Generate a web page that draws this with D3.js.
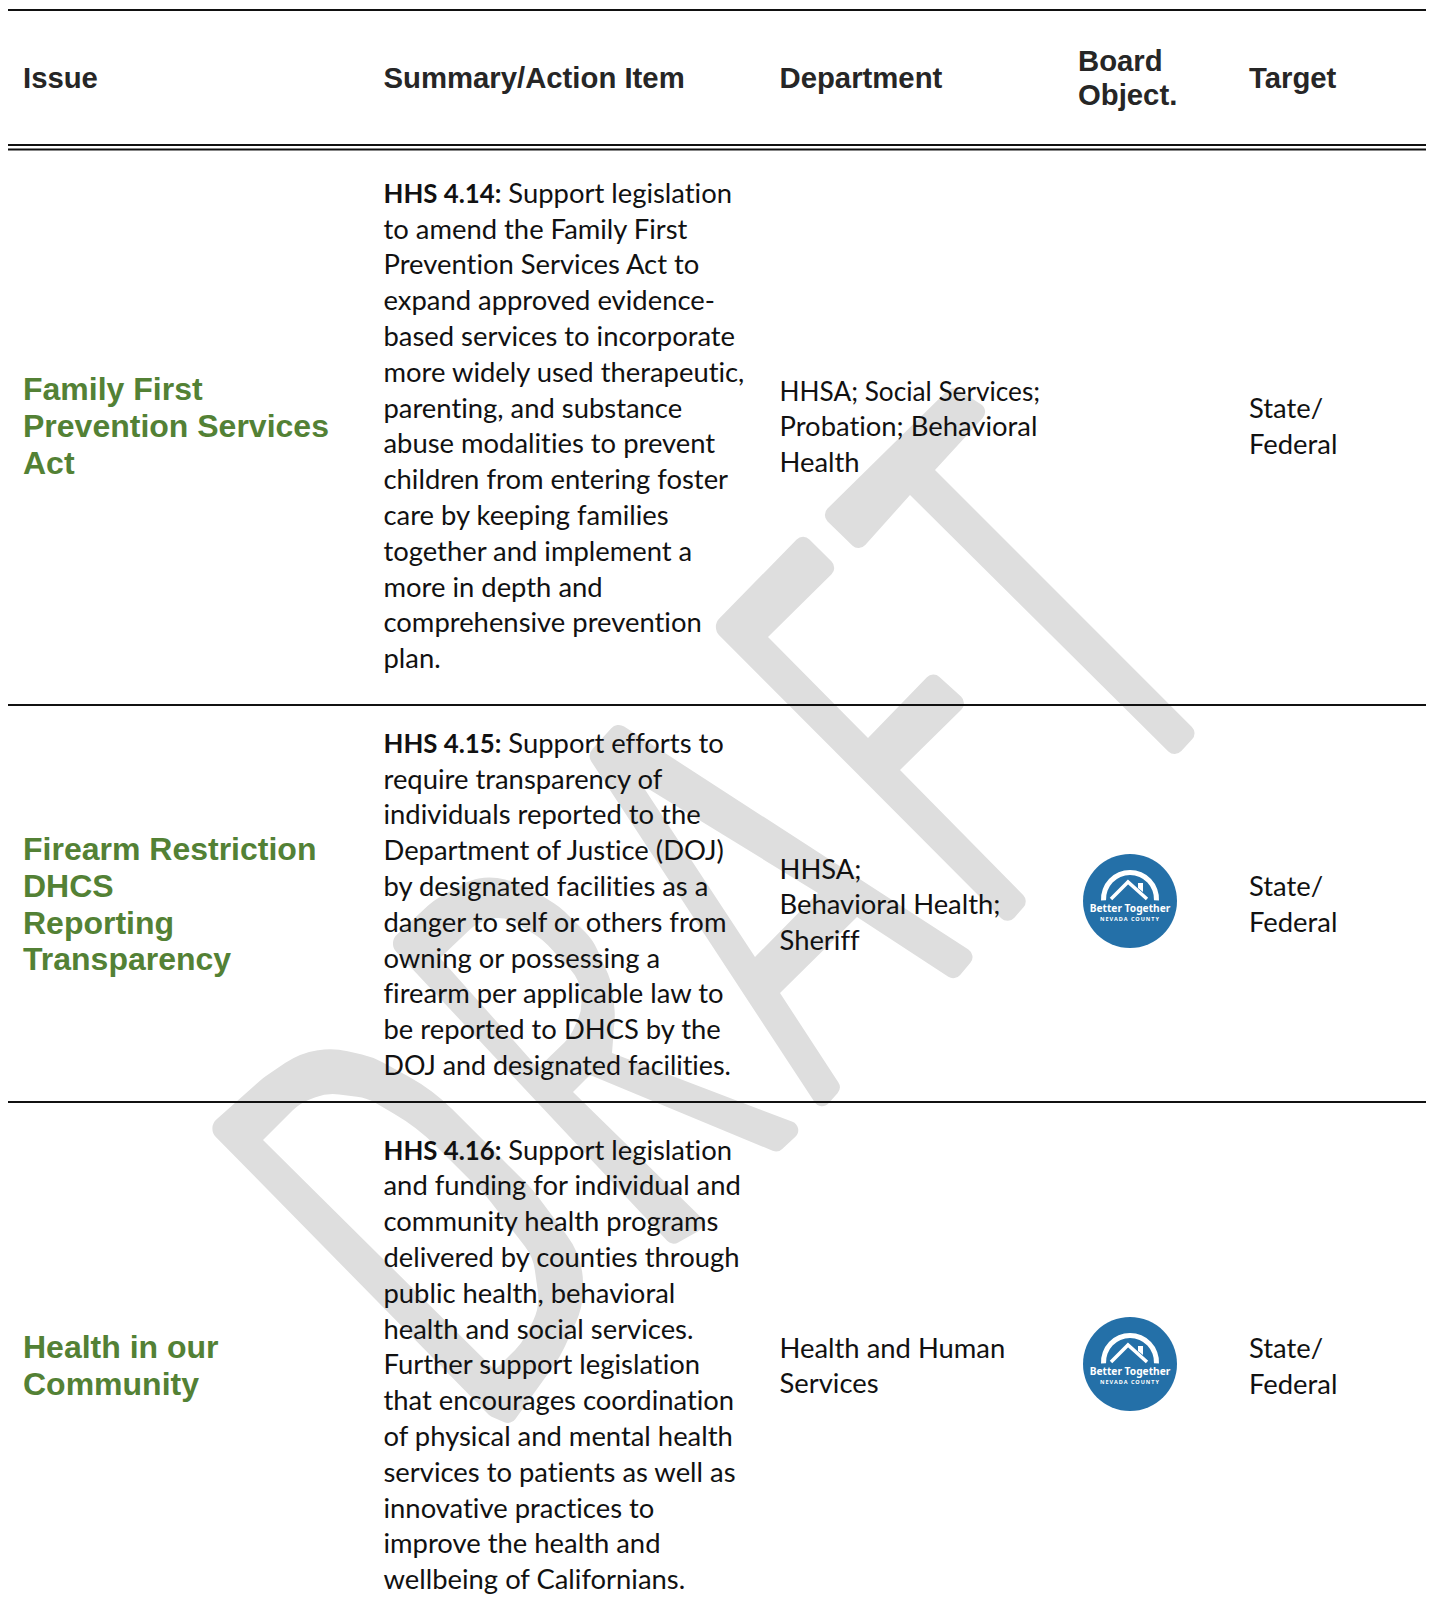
<!DOCTYPE html>
<html>
<head>
  <meta charset="utf-8">
  <title>Legislative platform table</title>
  <script src="https://d3js.org/d3.v7.min.js"></script>
  <style>
  body { margin: 0; background: #fff; }
  svg { display: block; }
  .head { font: bold 29.3px "Liberation Sans", Arial, sans-serif; fill: #262626; }
  .issue { font: bold 32px "Liberation Sans", Arial, sans-serif; fill: #538135; }
  .body { font: 27.4px Lato, sans-serif; fill: #111; font-variant-ligatures: none; }
  .body .b { font-weight: 700; font-size: 25.8px; }
  </style>
</head>
<body>
<script>

var width = 1431,
    height = 1621;

// table content
var columns = ['Issue', 'Summary/Action Item', 'Department', 'Board', 'Target'];
var issues = [
  ['Family First', 'Prevention Services', 'Act'],
  ['Firearm Restriction', 'DHCS', 'Reporting', 'Transparency'],
  ['Health in our', 'Community']
];
var itemCodes = ['HHS 4.14:', 'HHS 4.15:', 'HHS 4.16:'];
var summaries = [
  [' Support legislation', 'to amend the Family First', 'Prevention Services Act to', 'expand approved evidence-',
   'based services to incorporate', 'more widely used therapeutic,', 'parenting, and substance',
   'abuse modalities to prevent', 'children from entering foster', 'care by keeping families',
   'together and implement a', 'more in depth and', 'comprehensive prevention', 'plan.'],
  [' Support efforts to', 'require transparency of', 'individuals reported to the', 'Department of Justice (DOJ)',
   'by designated facilities as a', 'danger to self or others from', 'owning or possessing a',
   'firearm per applicable law to', 'be reported to DHCS by the', 'DOJ and designated facilities.'],
  [' Support legislation', 'and funding for individual and', 'community health programs', 'delivered by counties through',
   'public health, behavioral', 'health and social services.', 'Further support legislation',
   'that encourages coordination', 'of physical and mental health', 'services to patients as well as',
   'innovative practices to', 'improve the health and', 'wellbeing of Californians.']
];
var departments = [
  ['HHSA; Social Services;', 'Probation; Behavioral', 'Health'],
  ['HHSA;', 'Behavioral Health;', 'Sheriff'],
  ['Health and Human', 'Services']
];
var targets = [['State/', 'Federal'], ['State/', 'Federal'], ['State/', 'Federal']];
var boardObjective = [false, true, true];

// layout
var colX = d3.scaleOrdinal(columns, [23, 383.5, 779.5, 1078, 1249]);
var issueTop = [400, 860, 1358];
var summaryTop = [202.7, 752.7, 1159.5];
var deptTop = [400.5, 878.5, 1357.5];
var targetTop = [417.6, 895.6, 1358.3];
var logoY = [0, 901, 1364];
var ruleY = [705, 1102];
// Lato runs wide on these two lines, squeeze them to the reference width
var fitWidth = { 'HHSA; Social Services;': 260.6, 'DOJ and designated facilities.': 347.4 };

var svg = d3.select('body')
  .append('svg')
  .attr('width', width)
  .attr('height', height);

// DRAFT watermark, outlines. [x, y, corner radius]
var letterD = [
  [[207,1128,12],[263,1078,60],[300,1053,80],[333,1048,80],[373,1057,80],[433,1090,200],[533,1190,120],[583,1257,80],[583,1307,80],[560,1357,120],[511,1425,9],[490,1416,9]],
  [[263,1140,0],[300,1103,50],[327,1093,50],[367,1098,50],[417,1127,200],[487,1197,100],[533,1257,50],[540,1307,50],[522,1343,60],[495,1370,0]]
];
var letterR = [
  [[388,943,12],[433,901,60],[470,880,60],[492,876,60],[525,885,60],[560,907,60],[593,940,60],[612,983,60],[615,1015,60],[612,1053,0],[806,1127,9],[778,1153,9],[590,1075,0],[573,1092,0],[709,1225,9],[672,1246,9]],
  [[440,958,0],[478,922,40],[505,915,40],[543,940,60],[580,980,40],[582,1010,40],[570,1037,40],[538,1068,0]]
];
var letterA = [
  [[587,755,10],[617,722,10],[977,955,9],[955,981,9],[857,917,0],[780,993,0],[842,1088,9],[821,1112,9]],
  [[642,785,0],[818,893,0],[755,957,0]]
];
var letterF = [
  [[711,627,12],[803,533,9],[838,568,9],[768,637,0],[868,738,0],[933,671,9],[968,703,9],[900,770,0],[1029,901,9],[1008,925,9]]
];
var letterT = [
  [[821,515,9],[952,386,9],[990,410,9],[935,470,0],[1198,733,9],[1175,758,9],[910,495,0],[859,552,9]]
];
var watermark = [letterD, letterR, letterA, letterF, letterT];

function outline(rings) {
  var p = d3.path();
  rings.forEach(function(v) {
    var n = v.length;
    p.moveTo((v[n-1][0] + v[0][0]) / 2, (v[n-1][1] + v[0][1]) / 2);
    v.forEach(function(c, i) {
      var next = v[(i + 1) % n];
      p.arcTo(c[0], c[1], next[0], next[1], c[2]);
    });
    p.closePath();
  });
  return p.toString();
}

svg.append('g').attr('class', 'watermark')
  .selectAll('path')
  .data(watermark)
  .enter()
  .append('path')
  .attr('d', outline)
  .attr('fill', '#dedede')
  .attr('fill-rule', 'evenodd');

// rules
function rule(y, w) {
  svg.append('line')
    .attr('x1', 8).attr('x2', 1426)
    .attr('y1', y).attr('y2', y)
    .attr('stroke', '#111')
    .attr('stroke-width', w);
}
rule(10, 2);
rule(145, 2);
rule(149.5, 2.2);
ruleY.forEach(function(y) { rule(y, 2); });

// header
svg.selectAll('.head')
  .data(columns.filter(function(c) { return c != 'Board'; }))
  .enter()
  .append('text')
  .attr('class', 'head')
  .attr('x', function(d) { return colX(d); })
  .attr('y', 88)
  .text(function(d) { return d; });

svg.selectAll('.head2')
  .data(['Board', 'Object.'])
  .enter()
  .append('text')
  .attr('class', 'head')
  .attr('x', colX('Board'))
  .attr('y', function(d, i) { return 71 + i * 33.5; })
  .text(function(d) { return d; });

function block(lines, cls, x, top, step) {
  svg.append('g').selectAll('text')
    .data(lines)
    .enter()
    .append('text')
    .attr('class', cls)
    .attr('x', x)
    .attr('y', function(d, i) { return top + i * step; })
    .attr('textLength', function(d) { return fitWidth[d] || null; })
    .attr('lengthAdjust', function(d) { return fitWidth[d] ? 'spacingAndGlyphs' : null; })
    .text(function(d) { return d; });
}

issues.forEach(function(lines, i) {
  block(lines, 'issue', colX('Issue'), issueTop[i], 36.8);
});

summaries.forEach(function(lines, i) {
  block(lines.slice(1), 'body', colX('Summary/Action Item'), summaryTop[i] + 35.8, 35.8);
  var first = svg.append('text')
    .attr('class', 'body')
    .attr('x', colX('Summary/Action Item'))
    .attr('y', summaryTop[i])
    .attr('xml:space', 'preserve');
  first.append('tspan').attr('class', 'b').text(itemCodes[i]);
  first.append('tspan').text(lines[0]);
});

departments.forEach(function(lines, i) {
  block(lines, 'body', colX('Department'), deptTop[i], 35.6);
});

targets.forEach(function(lines, i) {
  block(lines, 'body', colX('Target'), targetTop[i], 36);
});

// Better Together logo
var logos = svg.selectAll('.logo')
  .data(logoY.filter(function(y, i) { return boardObjective[i]; }))
  .enter()
  .append('g')
  .attr('class', 'logo')
  .attr('transform', function(d) { return 'translate(1130,' + d + ')'; });

logos.append('circle')
  .attr('r', 47)
  .attr('fill', '#2470a8');

logos.append('path')
  .attr('d', d3.arc()({ innerRadius: 24, outerRadius: 29, startAngle: -Math.PI / 2 - 0.05, endAngle: Math.PI / 2 + 0.05 }))
  .attr('transform', 'translate(0,-2)')
  .attr('fill', '#fff');

logos.append('path')
  .attr('d', d3.line()([[-19, -2], [-2, -19], [17, -2]]))
  .attr('fill', 'none')
  .attr('stroke', '#fff')
  .attr('stroke-width', 3.5);

logos.append('path')
  .attr('d', d3.line()([[8, -18], [13, -18], [13, -9], [8, -13]]))
  .attr('fill', '#fff');

logos.append('text')
  .attr('text-anchor', 'middle')
  .attr('y', 11)
  .attr('fill', '#fff')
  .style('font', 'bold 10.2px "Noto Sans", sans-serif')
  .text('Better Together');

logos.append('text')
  .attr('text-anchor', 'middle')
  .attr('y', 20)
  .attr('fill', '#fff')
  .style('font', 'bold 5.5px "Noto Sans", sans-serif')
  .style('letter-spacing', '1px')
  .text('NEVADA COUNTY');

</script>
</body>
</html>
